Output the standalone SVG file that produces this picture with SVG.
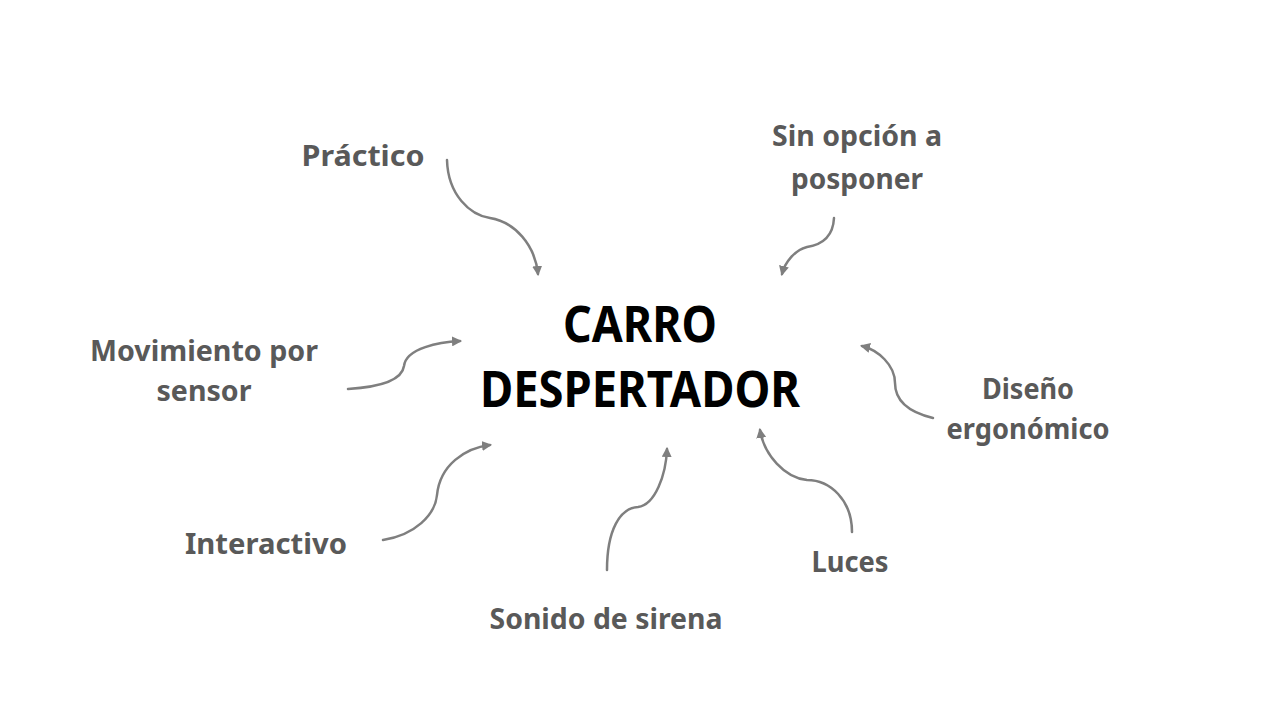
<svg xmlns="http://www.w3.org/2000/svg" width="1280" height="720" viewBox="0 0 1280 720">
<style>
.lbl{font-family:"Noto Sans","Liberation Sans",sans-serif;font-size:29px;font-weight:bold;fill:#595959;text-anchor:middle}
.title{font-family:"Noto Sans","Liberation Sans",sans-serif;font-size:50px;font-weight:bold;fill:#000;text-anchor:middle}
.con{fill:none;stroke:#7f7f7f;stroke-width:2.5;stroke-linecap:round;marker-end:url(#ah)}
</style>
<defs>
<marker id="ah" viewBox="0 0 10 10" refX="8" refY="5" markerWidth="4" markerHeight="4" orient="auto" markerUnits="strokeWidth">
<path d="M0,0 L10,5 L0,10 z" fill="#7f7f7f"/>
</marker>
</defs>
<rect width="1280" height="720" fill="#fff"/>
<g id="connectors">
<path class="con" d="M447,160 C448,195 470,215 490,218 C515,222 535,245 538,274"/>
<path class="con" d="M834,218 C833,238 820,245 807,247 C795,250 785,262 782,274"/>
<path class="con" d="M348,389 C380,387 402,380 404,366 C406,348 440,342 460,341"/>
<path class="con" d="M383,540 C415,535 435,515 437,495 C440,465 465,448 490,445"/>
<path class="con" d="M607,570 C607,530 620,508 638,507 C655,505 666,475 667,449"/>
<path class="con" d="M852,532 C852,500 830,480 807,480 C785,478 764,455 760,430"/>
<path class="con" d="M933,418 C908,412 895,400 895,383 C895,365 878,350 862,346"/>
</g>
<g id="center"><text class="title" x="640" y="342" textLength="154" lengthAdjust="spacingAndGlyphs">CARRO</text><text class="title" x="640" y="407" textLength="320" lengthAdjust="spacingAndGlyphs">DESPERTADOR</text></g>
<g id="n-practico"><text class="lbl" x="363" y="166" textLength="123" lengthAdjust="spacingAndGlyphs">Práctico</text></g>
<g id="n-sinopcion"><text class="lbl" x="857" y="146" textLength="170" lengthAdjust="spacingAndGlyphs">Sin opción a</text><text class="lbl" x="857" y="189" textLength="132" lengthAdjust="spacingAndGlyphs">posponer</text></g>
<g id="n-movimiento"><text class="lbl" x="204" y="361" textLength="228" lengthAdjust="spacingAndGlyphs">Movimiento por</text><text class="lbl" x="204" y="401" textLength="95" lengthAdjust="spacingAndGlyphs">sensor</text></g>
<g id="n-interactivo"><text class="lbl" x="266" y="554" textLength="162" lengthAdjust="spacingAndGlyphs">Interactivo</text></g>
<g id="n-sonido"><text class="lbl" x="606" y="629" textLength="233" lengthAdjust="spacingAndGlyphs">Sonido de sirena</text></g>
<g id="n-luces"><text class="lbl" x="850" y="572" textLength="77" lengthAdjust="spacingAndGlyphs">Luces</text></g>
<g id="n-diseno"><text class="lbl" x="1028" y="399" textLength="92" lengthAdjust="spacingAndGlyphs">Diseño</text><text class="lbl" x="1028" y="439" textLength="163" lengthAdjust="spacingAndGlyphs">ergonómico</text></g>
</svg>
